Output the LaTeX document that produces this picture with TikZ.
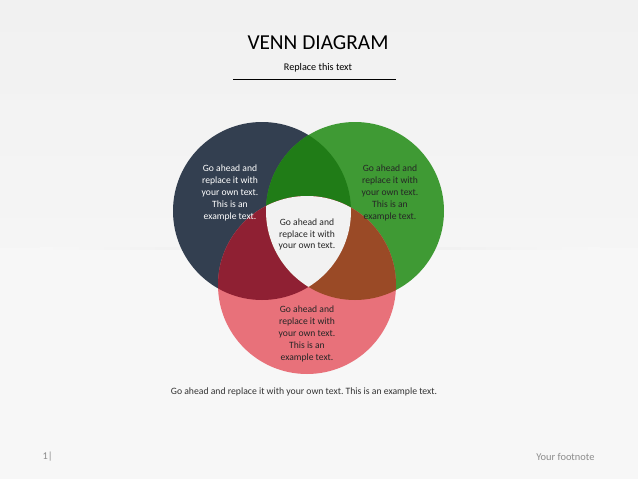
\documentclass[tikz,border=0pt]{standalone}
\usepackage{fontspec}
\setmainfont{Carlito}
\usetikzlibrary{positioning}
\frenchspacing

\definecolor{navyc}{RGB}{51,63,80}
\definecolor{greenc}{RGB}{63,154,52}
\definecolor{pinkc}{RGB}{232,113,122}
\definecolor{ngc}{RGB}{32,124,23}
\definecolor{npc}{RGB}{143,32,51}
\definecolor{gpc}{RGB}{154,74,38}
\definecolor{midc}{RGB}{242,242,242}
\definecolor{footc}{RGB}{140,140,140}
\definecolor{bgtop}{RGB}{241,241,241}
\definecolor{bgmid}{RGB}{245,245,245}
\definecolor{bgbot}{RGB}{247,247,247}
\definecolor{bgline}{RGB}{236,236,236}

\tikzset{
  vtext/.style={align=center, font=\fontsize{9.6}{11.8}\selectfont, inner sep=0pt},
}

\begin{document}
\begin{tikzpicture}[x=1pt,y=-1pt]

%%% fond
\fill[top color=bgtop, bottom color=bgmid] (0,0) rectangle (638,248);
\fill[bgbot] (0,248) rectangle (638,479);
\fill[left color=bgbot, right color=bgbot, middle color=bgline] (40,247.5) rectangle (600,249);
\useasboundingbox (0,0) rectangle (638,479);

%%% titre
\node (title) at (318,43) {\fontsize{21.3}{24}\selectfont VENN DIAGRAM};
\node (subtitle) at (318,68) {\fontsize{10.2}{12}\selectfont Replace this text};
\coordinate (ulL) at (233,79);
\coordinate (ulR) at (396,79);
\draw[line width=0.8pt] (ulL) -- (ulR);

%%% cercles
\coordinate (cn) at (262,211);
\coordinate (cg) at (355,211);
\coordinate (cp) at (307,285);

\fill[navyc] (cn) circle (89);
\fill[greenc] (cg) circle (89);
\fill[pinkc] (cp) circle (89);

% intersections
\begin{scope}
\clip (cn) circle (89);
\fill[ngc] (cg) circle (89);
\fill[npc] (cp) circle (89);
\end{scope}
\begin{scope}
\clip (cg) circle (89);
\fill[gpc] (cp) circle (89);
\end{scope}
\begin{scope}
\clip (cn) circle (89);
\clip (cg) circle (89);
\fill[midc] (cp) circle (89);
\end{scope}

%%% textes
\node[vtext, white] (navytext) at (230,193) {Go ahead and\\replace it with\\your own text.\\This is an\\example text.};
\node[vtext, black!85] (greentext) at (390,193) {Go ahead and\\replace it with\\your own text.\\This is an\\example text.};
\node[vtext, black!85] (midtext) at (307,234.5) {Go ahead and\\replace it with\\your own text.};
\node[vtext, black!85] (pinktext) at (307,334) {Go ahead and\\replace it with\\your own text.\\This is an\\example text.};

\node[font=\fontsize{9.7}{11}\selectfont, black!80] (note) at (304,392) {Go ahead and replace it with your own text. This is an example text.};

%%% pied de page
\node[font=\fontsize{10.4}{12}\selectfont, footc, anchor=west] (pagenum) at (39,457) {1|};
\node[font=\fontsize{10.4}{12}\selectfont, footc, anchor=east] (footnote) at (598,457) {Your footnote};

\end{tikzpicture}
\end{document}
